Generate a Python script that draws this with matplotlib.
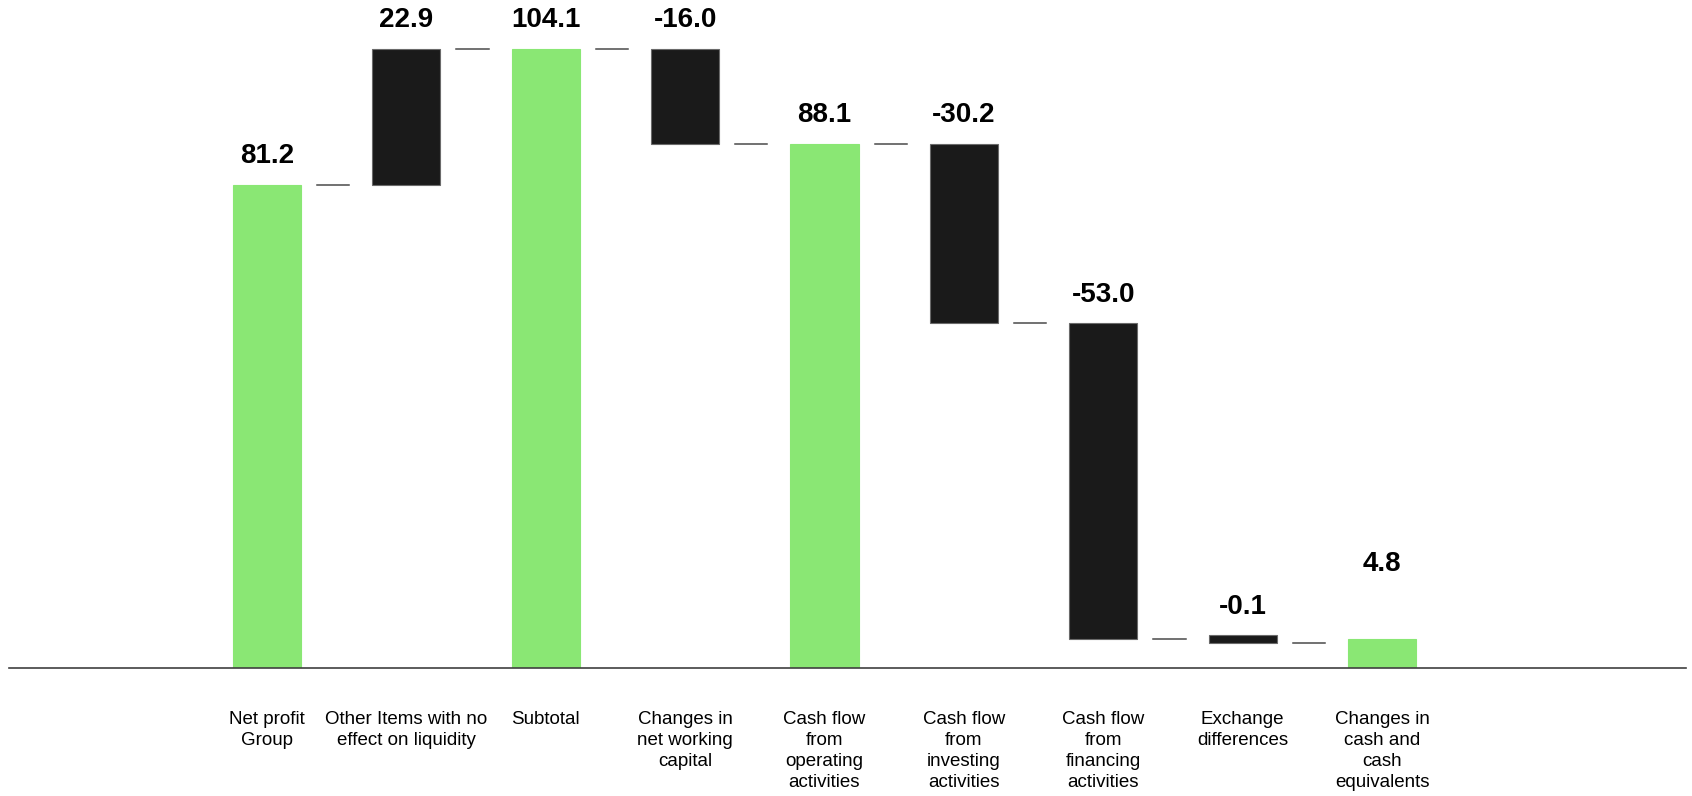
import matplotlib.pyplot as plt

plt.rcParams['font.family'] = ['Liberation Sans', 'DejaVu Sans']

# data
categories = [
    "Net profit\nGroup",
    "Other Items with no\neffect on liquidity",
    "Subtotal",
    "Changes in\nnet working\ncapital",
    "Cash flow\nfrom\noperating\nactivities",
    "Cash flow\nfrom\ninvesting\nactivities",
    "Cash flow\nfrom\nfinancing\nactivities",
    "Exchange\ndifferences",
    "Changes in\ncash and\ncash\nequivalents",
]
values = [81.2, 22.9, 104.1, -16.0, 88.1, -30.2, -53.0, -0.1, 4.8]
kinds = ["total", "delta", "total", "delta", "total", "delta", "delta", "delta", "total"]
value_labels = ["81.2", "22.9", "104.1", "-16.0", "88.1", "-30.2", "-53.0", "-0.1", "4.8"]

GREEN = "#8ae774"
BLACK = "#1a1a1a"
MIN_H = 1.3  # smallest visible bar height

fig = plt.figure(figsize=(16.92, 7.96), dpi=100)
ax = fig.add_axes([9 / 1692, 128 / 796, 1677 / 1692, 112 * 5.95 / 796])

run = 0.0
levels = []
for i, (v, k) in enumerate(zip(values, kinds)):
    if k == "total":
        bottom, height = 0.0, v
        run = v
        color, edge = GREEN, GREEN
    else:
        bottom, height = run, v
        run += v
        color, edge = BLACK, "#6a6a6a"
    lvl = run
    if abs(height) < MIN_H:
        mid = bottom + height / 2
        bottom, height = mid - MIN_H / 2, MIN_H
        lvl = bottom  # connector leaves from the drawn bottom
    ax.bar(i, height, bottom=bottom, width=0.49, color=color,
           edgecolor=edge, linewidth=0.8)
    top = max(bottom, bottom + height)
    extra = 34 if i == len(values) - 1 else 0
    ax.annotate(value_labels[i], (i, top), xytext=(0, 15.5 + extra),
                textcoords="offset points", ha="center", va="baseline",
                fontsize=20, fontweight="bold", annotation_clip=False)
    levels.append(lvl)

# connector lines between bars
for i in range(len(values) - 1):
    x0 = i + 0.5 - 0.14
    ax.plot([x0, x0 + 0.23], [levels[i], levels[i]], color="#4a4a4a", lw=1.1)

ax.set_xlim(-1.85, 10.18)
ax.set_ylim(0, 112)
ax.set_xticks(range(len(categories)))
ax.set_xticklabels(categories, fontsize=13.5, linespacing=1.3)
ax.tick_params(axis="x", length=0, pad=31)
ax.set_yticks([])
for s in ["top", "left", "right"]:
    ax.spines[s].set_visible(False)
ax.spines["bottom"].set_color("#404040")
ax.spines["bottom"].set_linewidth(1.2)

fig.savefig("out.png", dpi=100)
